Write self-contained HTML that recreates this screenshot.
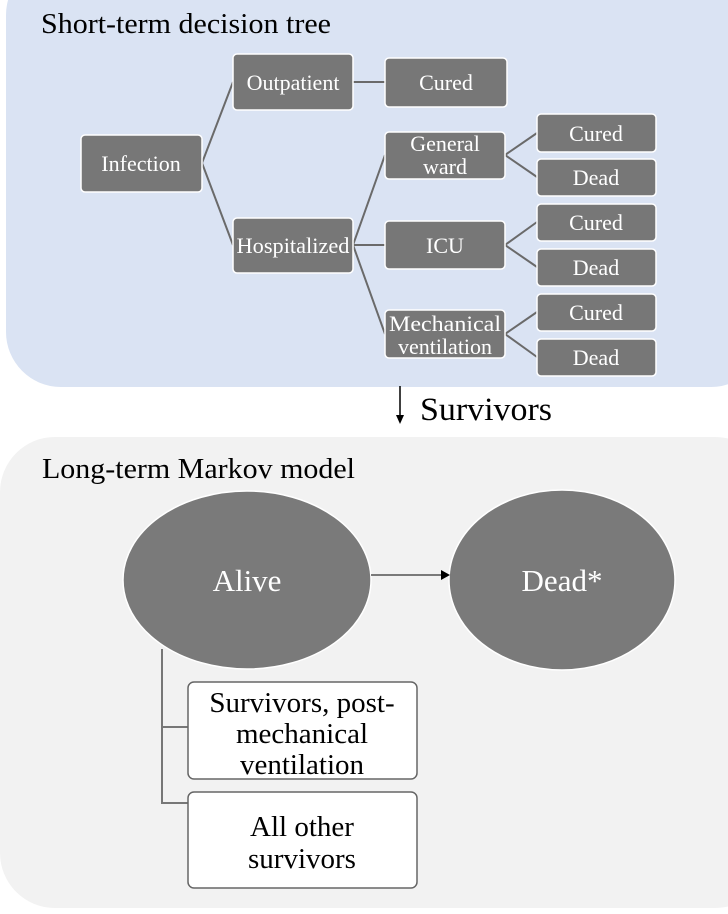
<!DOCTYPE html>
<html><head><style>
body{margin:0;background:#fff;}
svg text{font-family:"Liberation Serif",serif;}
</style></head><body>
<svg width="728" height="909" viewBox="0 0 728 909" xmlns="http://www.w3.org/2000/svg">
<rect x="6" y="-40" width="760" height="427" rx="55" fill="#dae3f3"/>
<rect x="0" y="437" width="770" height="471" rx="55" fill="#f2f2f2"/>
<text x="41" y="33" font-size="29" textLength="290" lengthAdjust="spacingAndGlyphs">Short-term decision tree</text>
<text x="42" y="478" font-size="29" textLength="313" lengthAdjust="spacingAndGlyphs">Long-term Markov model</text>
<g stroke="#6a6a6a" stroke-width="2" fill="none">
<polyline points="233,82 202,163 233,245"/>
<line x1="353" y1="82" x2="385" y2="82"/>
<polyline points="385,155 353,245 385,334"/>
<line x1="353" y1="245" x2="385" y2="245"/>
<polyline points="537,133 505,155 537,177"/>
<polyline points="537,222 505,245 537,267"/>
<polyline points="537,312 505,334 537,357"/>
</g>
<g fill="#777" stroke="#fff" stroke-width="1.5">
<rect x="81" y="135" width="121" height="57" rx="4"/>
<rect x="233" y="54" width="120" height="56" rx="4"/>
<rect x="385" y="58" width="122" height="49" rx="4"/>
<rect x="233" y="218" width="120" height="55" rx="4"/>
<rect x="385" y="132" width="120" height="47" rx="4"/>
<rect x="385" y="221" width="120" height="48" rx="4"/>
<rect x="385" y="310" width="120" height="48" rx="4"/>
<rect x="537" y="114" width="119" height="38" rx="4"/>
<rect x="537" y="159" width="119" height="37" rx="4"/>
<rect x="537" y="204" width="119" height="37" rx="4"/>
<rect x="537" y="249" width="119" height="37" rx="4"/>
<rect x="537" y="294" width="119" height="37" rx="4"/>
<rect x="537" y="339" width="119" height="37" rx="4"/>
</g>
<g fill="#fff" font-size="22" text-anchor="middle">
<text x="141" y="171">Infection</text>
<text x="293" y="90">Outpatient</text>
<text x="446" y="90">Cured</text>
<text x="293" y="253" textLength="113" lengthAdjust="spacingAndGlyphs">Hospitalized</text>
<text x="445" y="151">General</text>
<text x="445" y="174">ward</text>
<text x="445" y="253">ICU</text>
<text x="445" y="331" textLength="112" lengthAdjust="spacingAndGlyphs">Mechanical</text>
<text x="445" y="354">ventilation</text>
<text x="596" y="141">Cured</text>
<text x="596" y="185">Dead</text>
<text x="596" y="230">Cured</text>
<text x="596" y="275">Dead</text>
<text x="596" y="320">Cured</text>
<text x="596" y="365">Dead</text>
</g>
<line x1="400" y1="386" x2="400" y2="416" stroke="#000" stroke-width="1.5"/>
<polygon points="396,415 404,415 400,424" fill="#000"/>
<text x="420" y="420" font-size="33" textLength="132" lengthAdjust="spacingAndGlyphs">Survivors</text>
<ellipse cx="247" cy="580" rx="124" ry="89" fill="#7a7a7a" stroke="#fff" stroke-width="1.5"/>
<ellipse cx="562" cy="580" rx="113" ry="90" fill="#7a7a7a" stroke="#fff" stroke-width="1.5"/>
<text x="247" y="591" font-size="31" fill="#fff" text-anchor="middle">Alive</text>
<text x="562" y="591" font-size="31" fill="#fff" text-anchor="middle">Dead*</text>
<line x1="371" y1="575" x2="442" y2="575" stroke="#333" stroke-width="1.2"/>
<polygon points="441,570 450,575 441,580" fill="#000"/>
<polyline points="162,649 162,803 188,803" stroke="#777" stroke-width="2" fill="none"/>
<line x1="162" y1="727" x2="188" y2="727" stroke="#777" stroke-width="2"/>
<rect x="188" y="682" width="229" height="97" rx="6" fill="#fff" stroke="#666" stroke-width="1.5"/>
<rect x="188" y="792" width="229" height="96" rx="6" fill="#fff" stroke="#666" stroke-width="1.5"/>
<g font-size="29" text-anchor="middle">
<text x="302" y="712">Survivors, post-</text>
<text x="302" y="743">mechanical</text>
<text x="302" y="774">ventilation</text>
<text x="302" y="836">All other</text>
<text x="302" y="868">survivors</text>
</g>
</svg>
</body></html>
